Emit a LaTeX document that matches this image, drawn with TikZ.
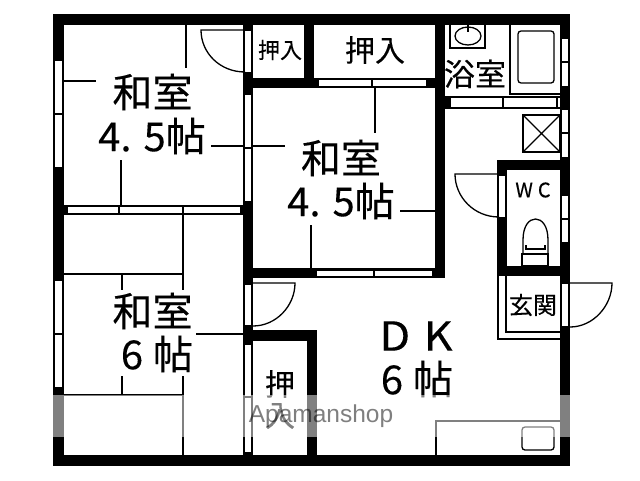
\documentclass[tikz,border=0pt]{standalone}
\usepackage{fontspec}
\setmainfont[FakeBold=0.25]{Noto Sans CJK JP}
\newfontfamily\wm{Liberation Sans}
\tikzset{
  x=1pt,y=-1pt,
  wall/.style={fill=black,draw=none},
  win/.style={fill=white,draw=none},
  ln/.style={draw=black,line width=1.3pt},
  thin line/.style={draw=black,line width=1.8pt},
  big/.style={inner sep=0pt,font=\fontsize{40}{40}\selectfont},
  mid/.style={inner sep=0pt,font=\fontsize{30}{30}\selectfont},
  small/.style={inner sep=0pt,font=\fontsize{22}{22}\selectfont},
}
\begin{document}
\begin{tikzpicture}
\useasboundingbox (0,0) rectangle (640,480);
\fill[white] (0,0) rectangle (640,480);
% tatami lines
\draw[ln] (186,25)--(186,68) (64,81)--(96,81) (211,146)--(285,146) (121,160)--(121,205);
\draw[ln] (375,88)--(375,133) (400,211)--(435,211) (311,225)--(311,269);
\draw[ln] (183,215)--(183,290) (64,274)--(183,274) (122,274)--(122,290) (122,376)--(122,395);
\draw[ln] (183,376)--(183,455) (64,395)--(183,395) (196,334)--(243,334);
% outer walls
\fill[wall] (53,14) rectangle (570,25);
\fill[wall] (53,455) rectangle (570,466);
\fill[wall] (53,14) rectangle (64,466);
\fill[wall] (560,14) rectangle (570,466);
% inner walls
\fill[wall] (243,25) rectangle (253,466);
\fill[wall] (243,78) rectangle (445,88);
\fill[wall] (304,25) rectangle (314,88);
\fill[wall] (435,25) rectangle (445,278);
\fill[wall] (243,268) rectangle (445,278);
\fill[wall] (243,330) rectangle (317,341);
\fill[wall] (307,330) rectangle (317,455);
\fill[wall] (497,160) rectangle (570,170);
\fill[wall] (497,160) rectangle (507,276);
\fill[wall] (497,266) rectangle (570,276);
% middle tatami partition
\fill[wall] (64,205) rectangle (243,215);
\fill[win] (68,207) rectangle (240,213);
\draw[ln] (119,206)--(119,214) (183,206)--(183,214);
% windows
\foreach \xa/\xb/\ya/\yb in {55/62/61/113, 55/62/115/167, 55/62/281/333, 55/62/335/387,
   245/251/31/72, 245/251/95/147, 245/251/149/201, 245/251/285/325, 245/251/345/396, 245/251/398/452,
   562/568/39/61, 562/568/63/86, 562/568/110/132, 562/568/134/157, 562/568/196/218, 562/568/220/242, 562/568/284/326,
   499/505/176/217}
  {\fill[win] (\xa,\ya) rectangle (\xb,\yb);}
\fill[win] (319,80) rectangle (371,86);
\fill[win] (373,80) rectangle (426,86);
\fill[win] (317,271) rectangle (373,276);
\fill[win] (375,271) rectangle (432,276);
% bath partition
\draw[ln] (445,97)--(560,97) (445,108)--(560,108) (503,97)--(503,108) (450,97)--(450,108) (557,97)--(557,108);
\fill[black] (445,97) rectangle (450,108);
% bathroom fittings
\draw[ln] (510,25)--(510,94)--(560,94);
\draw[ln,rounded corners=3pt] (518,31) rectangle (554,83);
\draw[thin line] (450,25)--(450,48)--(485,48)--(485,25);
\draw[ln] (468,36) ellipse (13 and 9);
\fill[black] (467,25) rectangle (469,32);
% ventilation box
\draw[thin line] (523,115) rectangle (560,152);
\draw[ln] (523,115)--(560,152) (523,152)--(560,115);
% doors
\draw[ln] (245,30)--(201,30) .. controls (201,53) and (220,72) .. (245,72);
\draw[ln] (499,174)--(455,174) .. controls (455,197) and (474,217) .. (499,217);
\draw[ln] (253,283)--(295,283) .. controls (295,306) and (276,326) .. (253,326);
\draw[ln] (570,283)--(612,283) .. controls (612,306) and (593,327) .. (570,327);
% genkan
\draw[ln] (498,276)--(498,339)--(560,339) (506,276)--(506,332)--(560,332);
% toilet
\draw[ln] (523,254)--(523,240) .. controls (523,226) and (529,219) .. (535.5,219) .. controls (542,219) and (548,226) .. (548,240)--(548,254);
\draw[ln] (526,245)--(526,249)--(545,249)--(545,245);
\draw[ln] (522,254) rectangle (548,266);
% kitchen
\draw[ln] (436,455)--(436,421)--(560,421);
\draw[ln,rounded corners=3pt] (522,427) rectangle (554,450);
% texts
\node[big] (r1a) at (152.5,92) {和室};
\node[big] (r1b) at (152,136) {4.\hspace{0.3em}5帖};
\node[big] (r2a) at (341,158) {和室};
\node[big] (r2b) at (341,201) {4.\hspace{0.3em}5帖};
\node[big] (r3a) at (152.5,311) {和室};
\node[big] (r3b) at (157,354) {6\hspace{0.25em}帖};
\node[big,xscale=1.12] (dk) at (416,336) {D\hspace{0.3em}K};
\node[big] (dk2) at (417,379) {6\hspace{0.25em}帖};
\node[small] (o1) at (280,50) {押入};
\node[mid] (o2) at (375,50) {押入};
\node[mid,font=\fontsize{31}{31}\selectfont] (bath) at (475,74) {浴室};
\node[inner sep=0pt,font=\fontsize{20}{20}\selectfont] (wc) at (533,190) {W\hspace{0.25em}C};
\node[small,font=\fontsize{24}{24}\selectfont] (gk) at (533,305) {玄関};
\node[mid] (o3a) at (280,384) {押};
\node[mid] (o3b) at (280,416) {入};
% watermark band
\fill[white,opacity=.5] (0,395) rectangle (640,437);
\node[inner sep=0pt,text=black,opacity=.5,font=\wm\fontsize{24.5}{24.5}\selectfont] (mark) at (321,416) {Apamanshop};
\end{tikzpicture}
\end{document}
